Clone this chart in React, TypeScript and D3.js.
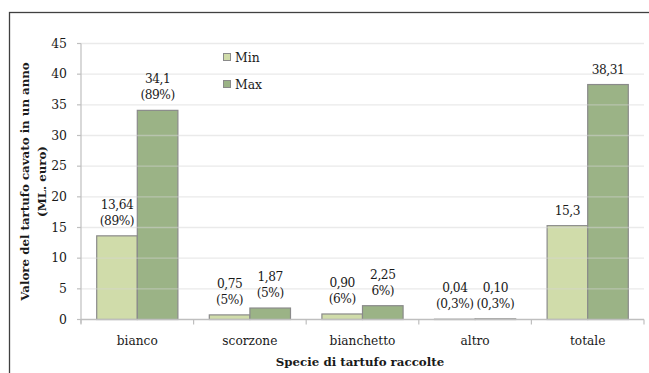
import React from "react";
import * as d3 from "d3";

const categories = ["bianco", "scorzone", "bianchetto", "altro", "totale"];
const series = ["Min", "Max"];
const minValues = [13.64, 0.75, 0.9, 0.04, 15.3];
const maxValues = [34.1, 1.87, 2.25, 0.1, 38.31];
const minLabels = [["13,64", "(89%)"], ["0,75", "(5%)"], ["0,90", "(6%)"], ["0,04", "(0,3%)"], ["15,3"]];
const maxLabels = [["34,1", "(89%)"], ["1,87", "(5%)"], ["2,25", "6%)"], ["0,10", "(0,3%)"], ["38,31"]];
const yTicks = [0, 5, 10, 15, 20, 25, 30, 35, 40, 45];

const W = 649;
const H = 373;
const left = 81;
const right = 644;
const top = 43.5;
const bottom = 319.5;
const colors = ["#d0dcaa", "#9bb386"];
const font = "'DejaVu Serif', serif";
const textColor = "#1a1a1a";

export default function App() {
  const y = d3.scaleLinear().domain([0, 45]).range([bottom, top]);
  const x0 = d3.scaleBand().domain(categories).range([left, right]).padding(0);
  const x1 = d3.scaleBand().domain(series).range([0, x0.bandwidth()]).paddingInner(0).paddingOuter(0.387);
  const data = [minValues, maxValues];
  const labels = [minLabels, maxLabels];
  const boundaries = categories.map((c) => x0(c)!).concat([right]);

  return (
    <svg width={W} height={H} style={{ position: "absolute", left: 0, top: 0 }}>
      <rect x={0} y={0} width={W} height={H} fill="#fff" />
      <rect x={9.5} y={12.5} width={W + 20} height={H + 20} fill="none" stroke="#404040" strokeWidth={1.3} />
      {series.map((s, si) =>
        categories.map((c, ci) => {
          const v = data[si][ci];
          const bx = x0(c)! + x1(s)!;
          return (
            <rect
              key={s + c}
              x={bx}
              y={y(v)}
              width={x1.bandwidth()}
              height={bottom - y(v)}
              fill={colors[si]}
              stroke="#8a8a8a"
              strokeWidth={1.2}
            />
          );
        })
      )}
      {yTicks.filter((t) => t > 0).map((t) => (
        <line key={t} x1={left} x2={right} y1={y(t)} y2={y(t)} stroke="#d6d6d6" strokeOpacity={0.5} strokeWidth={1.3} />
      ))}
      <line x1={left} x2={left} y1={top} y2={bottom + 4} stroke="#bfbfbf" strokeWidth={1.2} />
      {yTicks.map((t) => (
        <line key={"t" + t} x1={left - 4} x2={left} y1={y(t)} y2={y(t)} stroke="#bfbfbf" strokeWidth={1.2} />
      ))}
      <line x1={left} x2={right} y1={bottom} y2={bottom} stroke="#bfbfbf" strokeWidth={1.3} />
      {boundaries.map((b, i) => (
        <line key={"b" + i} x1={b} x2={b} y1={bottom} y2={bottom + 5} stroke="#bfbfbf" strokeWidth={1.2} />
      ))}
      {yTicks.map((t) => (
        <text key={"l" + t} x={67} y={y(t) + 4.3} textAnchor="end" fontFamily={font} fontSize={12.4} fill={textColor}>
          {t}
        </text>
      ))}
      {categories.map((c) => (
        <text key={"c" + c} x={x0(c)! + x0.bandwidth() / 2} y={345} textAnchor="middle" fontFamily={font} fontSize={12.2} fill={textColor}>
          {c}
        </text>
      ))}
      {series.map((s, si) =>
        categories.map((c, ci) => {
          const v = data[si][ci];
          const cx = x0(c)! + x1(s)! + x1.bandwidth() / 2;
          const lines = labels[si][ci];
          return (
            <text key={"d" + s + c} textAnchor="middle" fontFamily={font} fontSize={12.2} letterSpacing={-0.45} fill={textColor}>
              {lines.map((ln, li) => (
                <tspan key={li} x={cx} y={y(v) - 11 - (lines.length - 1 - li) * 16}>
                  {ln}
                </tspan>
              ))}
            </text>
          );
        })
      )}
      {series.map((s, si) => (
        <g key={"lg" + s}>
          <rect x={223.5} y={53.5 + si * 27} width={7} height={7} fill={colors[si]} stroke="#8a8a8a" strokeWidth={1} />
          <text x={235} y={62 + si * 27} fontFamily={font} fontSize={12.4} fill={textColor}>
            {s}
          </text>
        </g>
      ))}
      <text
        transform={`translate(29,${(top + bottom) / 2}) rotate(-90)`}
        textAnchor="middle"
        fontFamily={font}
        fontWeight="bold"
        fontSize={11.8}
        fill={textColor}
      >
        <tspan x={0} y={0}>Valore del tartufo cavato in un anno</tspan>
        <tspan x={0} y={17}>(ML. euro)</tspan>
      </text>
      <text x={360} y={366} textAnchor="middle" fontFamily={font} fontWeight="bold" fontSize={11.8} fill={textColor}>
        Specie di tartufo raccolte
      </text>
    </svg>
  );
}
